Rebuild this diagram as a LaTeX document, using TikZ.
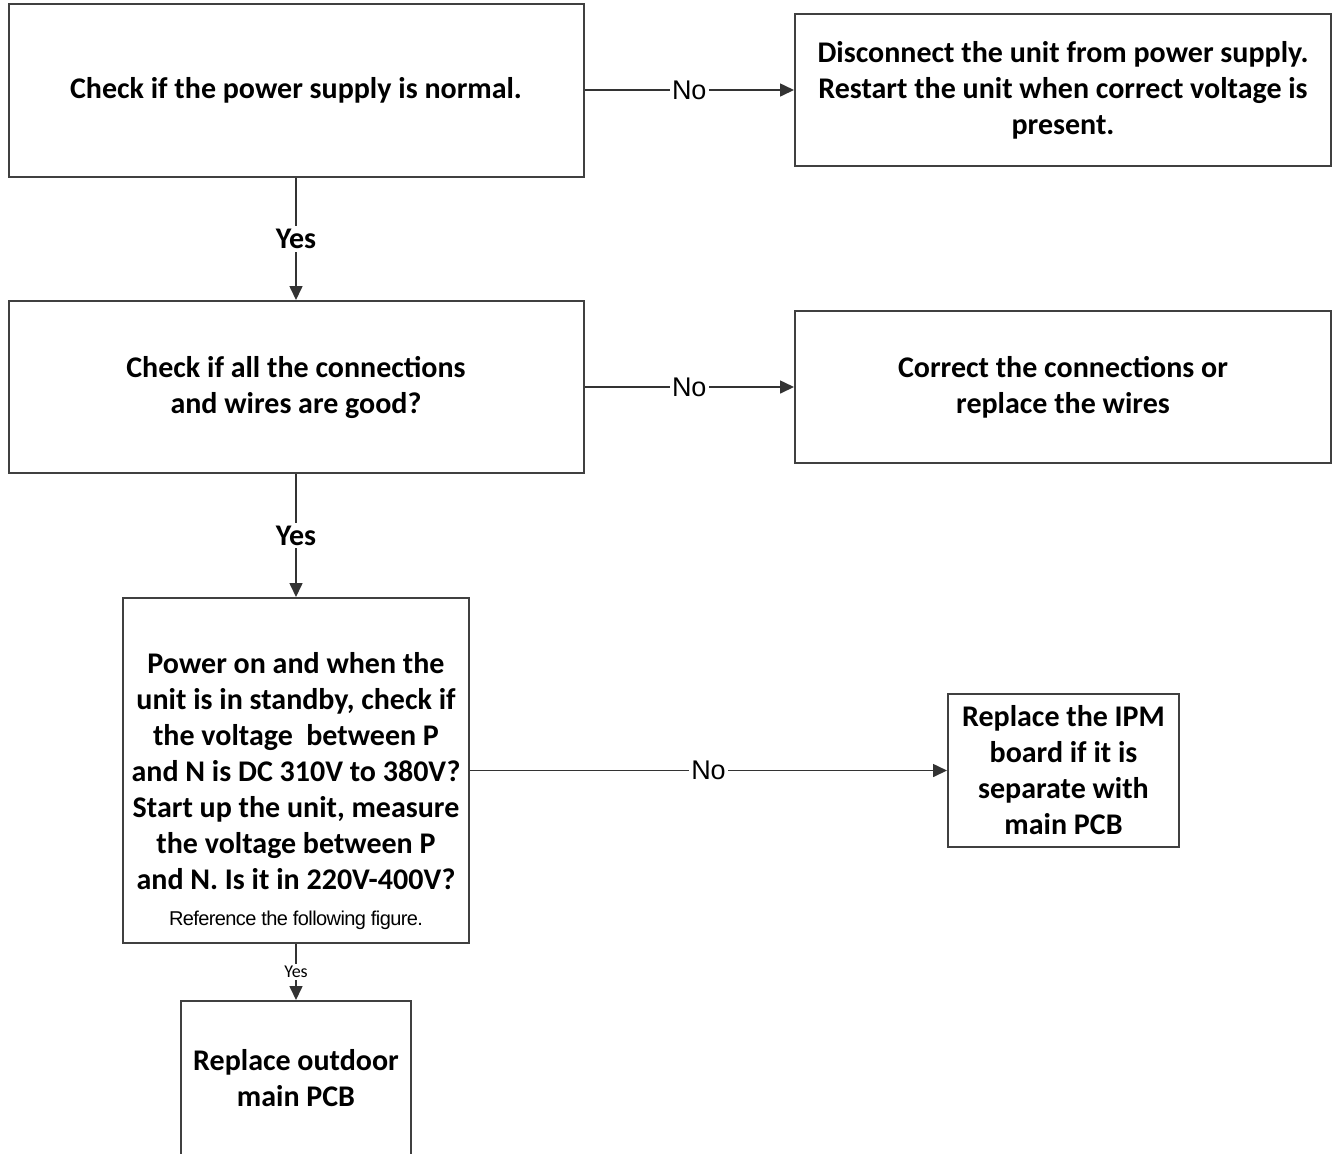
\documentclass[tikz,border=0pt]{standalone}
\usepackage{fontspec}
\setmainfont{Carlito}
\newfontfamily\arialfont{Liberation Sans}
\usepackage{tikz}
\usetikzlibrary{arrows.meta}

\tikzset{
  box/.style={draw=black!75, line width=1pt, align=center, inner sep=0pt,
    font=\bfseries\fontsize{15}{18}\selectfont},
  flow/.style={draw=black!80, line width=0.8pt, -{Triangle[length=7pt,width=6.5pt]}},
  nolabel/.style={fill=white, inner sep=1pt, font=\arialfont\fontsize{13.5}{15}\selectfont},
  yeslabel/.style={fill=white, inner sep=1.5pt, font=\bfseries\fontsize{15}{17}\selectfont},
}

\begin{document}
\begin{tikzpicture}[x=0.5pt, y=-0.5pt]
\useasboundingbox (0,0) rectangle (1333,1153);
\clip (0,0) rectangle (1333,1153);
\node [box, minimum width=287.5pt, minimum height=86.5pt] (power) at (296,90) {Check if the power supply is normal.};
\node [box, minimum width=268pt, minimum height=76pt] (restart) at (1063,90) {Disconnect the unit from power supply.\\Restart the unit when correct voltage is\\present.};
\node [box, minimum width=287.5pt, minimum height=86pt] (wires) at (296,387) {Check if all the connections\\and wires are good?};
\node [box, minimum width=268pt, minimum height=76pt] (correct) at (1063,387) {Correct the connections or\\replace the wires};
\node [box, minimum width=173pt, minimum height=172.5pt] (voltage) at (296,770.5) {\rule{0pt}{31pt}Power on and when the\\unit is in standby, check if\\the voltage~ between P\\and N is DC 310V to 380V?\\Start up the unit, measure\\the voltage between P\\and N. Is it in 220V-400V?\\{\arialfont\mdseries\fontsize{10}{11}\addfontfeature{LetterSpace=-3}\selectfont Reference the following figure.}};
\node [box, minimum width=115.5pt, minimum height=76.5pt] (ipm) at (1063.5,770.5) {Replace the IPM\\board if it is\\separate with\\main PCB};
\node [box, minimum width=115pt, minimum height=77pt] (mainpcb) at (296,1078) {Replace outdoor\\main PCB};
\draw [flow] (power.east) -- (restart.west) node [nolabel,midway] {No};
\draw [flow] (wires.east) -- (correct.west) node [nolabel,midway] {No};
\draw [flow] (voltage.east) -- (ipm.west) node [nolabel,midway] {No};
\draw [flow] (power.south) -- (wires.north) node [yeslabel,midway] {Yes};
\draw [flow] (wires.south) -- (voltage.north) node [yeslabel,midway] {Yes};
\draw [flow] (voltage.south) -- (mainpcb.north) node [fill=white,inner sep=1pt,font=\fontsize{9}{10}\selectfont,midway] {Yes};
\end{tikzpicture}
\end{document}
